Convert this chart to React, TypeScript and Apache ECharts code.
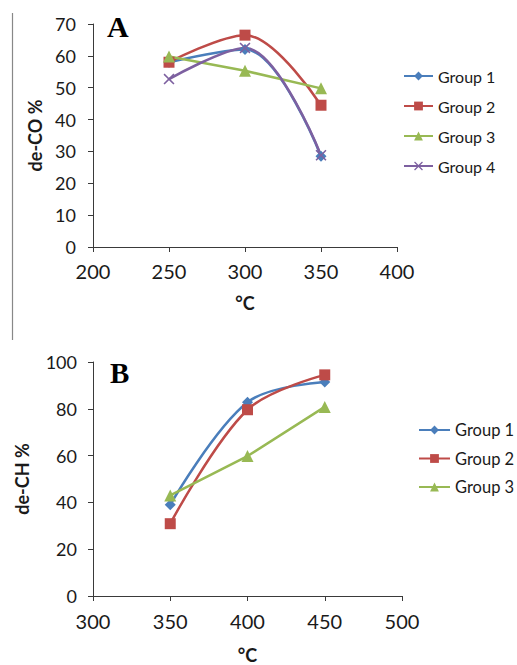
import React, { useEffect, useRef } from "react";
import * as echarts from "echarts";

const tempsA = [250, 300, 350];
const g1A = [58, 62, 28.5];
const g2A = [58, 66.5, 44.5];
const g3A = [59.8, 55.3, 49.8];
const g4A = [52.7, 62.5, 28.8];

const tempsB = [350, 400, 450];
const g1B = [39, 82.8, 91.5];
const g2B = [30.9, 79.6, 94.5];
const g3B = [43, 59.8, 80.8];

const groupNames = ["Group 1", "Group 2", "Group 3", "Group 4"];
const yTitleA = "de-CO %";
const yTitleB = "de-CH %";
const xTitle = "°C";

const BLUE = "#4a7ebb";
const RED = "#be4b48";
const GREEN = "#98b954";
const PURPLE = "#7d60a0";
const XSYM = "path://M0,1L1,0L5,4L9,0L10,1L6,5L10,9L9,10L5,6L1,10L0,9L4,5Z";

const FONT = "Lato";

function zip(xs: number[], ys: number[]) {
  return xs.map((x, i) => [x, ys[i]]);
}

export default function App() {
  const ref = useRef<HTMLDivElement>(null);
  useEffect(() => {
    if (!ref.current) return;
    const chart = echarts.init(ref.current, null, { renderer: "svg" });
    const axisLine = { show: true, lineStyle: { color: "#3a3a3a", width: 1 } };
    const axisTick = { show: true, inside: false, length: 5, lineStyle: { color: "#3a3a3a" } };
    const nameStyle = { fontFamily: FONT, fontWeight: "bold", fontSize: 18, color: "#1a1a1a" };
    const mk = (name: string, data: number[][], color: string, symbol: string, size: number, smooth: boolean, xi: number) => ({
      type: "line",
      name,
      xAxisIndex: xi,
      yAxisIndex: xi,
      data,
      smooth: smooth ? 0.35 : false,
      symbol,
      symbolSize: size,
      showSymbol: true,
      lineStyle: { color, width: 2.5 },
      itemStyle: { color },
      z: 3,
    });
    chart.setOption({
      animation: false,
      backgroundColor: "#ffffff",
      grid: [
        { left: 93, top: 24, width: 304, height: 223 },
        { left: 93, top: 362, width: 309, height: 235 },
      ],
      xAxis: [
        {
          type: "value", gridIndex: 0, min: 200, max: 400, interval: 50,
          axisLine, axisTick, splitLine: { show: false },
          axisLabel: { fontFamily: FONT, fontSize: 20, color: "#1a1a1a", margin: 14 },
          name: xTitle, nameLocation: "middle", nameGap: 47, nameTextStyle: nameStyle,
        },
        {
          type: "value", gridIndex: 1, min: 300, max: 500, interval: 50,
          axisLine, axisTick, splitLine: { show: false },
          axisLabel: { fontFamily: FONT, fontSize: 20, color: "#1a1a1a", margin: 15 },
          name: xTitle, nameLocation: "middle", nameGap: 50, nameTextStyle: nameStyle,
        },
      ],
      yAxis: [
        {
          type: "value", gridIndex: 0, min: 0, max: 70, interval: 10,
          axisLine, axisTick, splitLine: { show: false },
          axisLabel: { fontFamily: FONT, fontSize: 18, color: "#1a1a1a", margin: 17 },
          name: yTitleA, nameLocation: "middle", nameRotate: 90, nameGap: 49, nameTextStyle: nameStyle,
        },
        {
          type: "value", gridIndex: 1, min: 0, max: 100, interval: 20,
          axisLine, axisTick, splitLine: { show: false },
          axisLabel: { fontFamily: FONT, fontSize: 18, color: "#1a1a1a", margin: 16 },
          name: yTitleB, nameLocation: "middle", nameRotate: 90, nameGap: 62, nameTextStyle: nameStyle,
        },
      ],
      legend: [
        {
          orient: "vertical", left: 398, top: 62, itemWidth: 29, itemHeight: 11, itemGap: 12,
          data: groupNames, selectedMode: false,
          textStyle: { fontFamily: FONT, fontSize: 16, lineHeight: 18, color: "#1a1a1a" },
        },
        {
          orient: "vertical", left: 413, top: 416, itemWidth: 31, itemHeight: 11, itemGap: 10.5,
          data: groupNames.slice(0, 3), selectedMode: false,
          textStyle: { fontFamily: FONT, fontSize: 16.5, lineHeight: 18, color: "#1a1a1a" },
        },
      ],
      graphic: [
        { type: "line", shape: { x1: 12.5, y1: 13, x2: 12.5, y2: 340 }, style: { stroke: "#888", lineWidth: 1.2 } },
        { type: "text", x: 107, y: 26, style: { text: "A", font: "bold 30px 'Liberation Serif'", fill: "#000", verticalAlign: "middle" } },
        { type: "text", x: 110, y: 373, style: { text: "B", font: "bold 29px 'Liberation Serif'", fill: "#000", verticalAlign: "middle" } },
      ],
      series: [
        mk(groupNames[0], zip(tempsA, g1A), BLUE, "diamond", 11, true, 0),
        mk(groupNames[1], zip(tempsA, g2A), RED, "rect", 11, true, 0),
        mk(groupNames[2], zip(tempsA, g3A), GREEN, "triangle", 12, false, 0),
        mk(groupNames[3], zip(tempsA, g4A), PURPLE, XSYM, 11, true, 0),
        mk(groupNames[0], zip(tempsB, g1B), BLUE, "diamond", 11, true, 1),
        mk(groupNames[1], zip(tempsB, g2B), RED, "rect", 11, true, 1),
        mk(groupNames[2], zip(tempsB, g3B), GREEN, "triangle", 12, false, 1),
      ],
    });
    return () => chart.dispose();
  }, []);
  return <div ref={ref} style={{ position: "fixed", left: 0, top: 0, width: 517, height: 665 }} />;
}
